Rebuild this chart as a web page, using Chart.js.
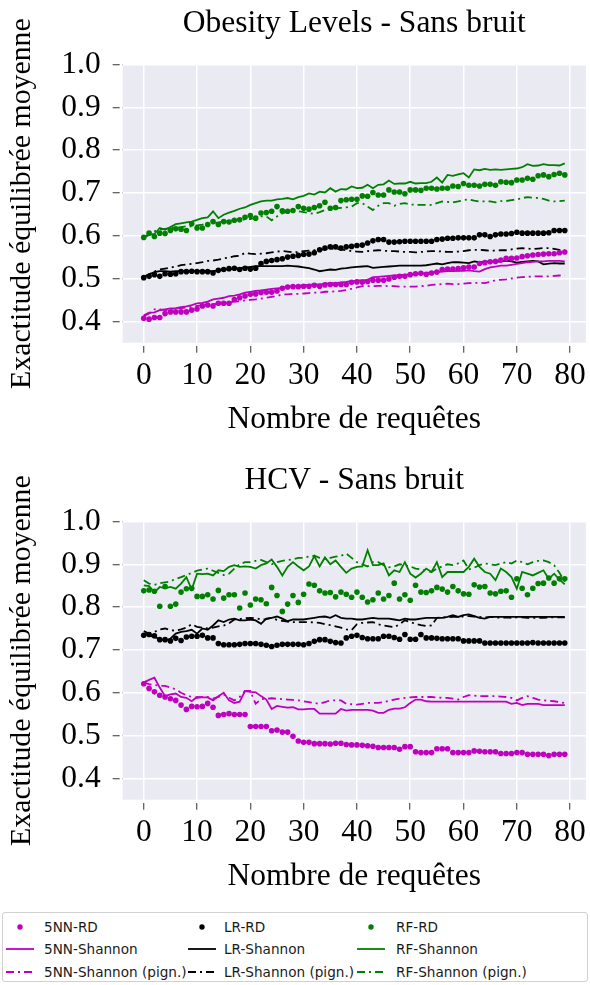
<!DOCTYPE html>
<html>
<head>
<meta charset="utf-8">
<script src="https://cdn.jsdelivr.net/npm/chart.js@4"></script>
<style>
  body { margin: 0; background: #fff; width: 590px; height: 985px; position: relative; overflow: hidden; }
  .plot { position: absolute; left: 0; width: 590px; height: 450px; }
  #legend { position: absolute; left: 2px; top: 912px; width: 586px; height: 70px; border: 1px solid #d0d0d0; border-radius: 3px; box-sizing: border-box; }
  .entry { position: absolute; font-family: "DejaVu Sans"; font-size: 13.6px; color: #1a1a1a; white-space: nowrap; line-height: 16px; }
  .sym { position: absolute; }
</style>
</head>
<body>
<div class="plot" style="top:0"><canvas id="obesity" width="590" height="450"></canvas></div>
<div class="plot" style="top:457px"><canvas id="hcv" width="590" height="450"></canvas></div>
<div id="legend"></div>
<script>
// Nombre de requêtes (axe x)
const requetes = Array.from({length: 80}, (_, i) => i);

// ---- Obesity Levels - Sans bruit ----
const obeKnnRD = [.407,.405,.409,.409,.418,.422,.422,.422,.422,.426, .429,.436,.438,.436,.442,.442,.442,.451,.455,.459,
  .463,.464,.467,.468,.468,.471,.477,.480,.481,.481, .482,.482,.484,.482,.485,.486,.486,.486,.486,.491,
  .492,.491,.493,.496,.496,.496,.499,.503,.505,.505, .509,.511,.512,.510,.513,.515,.521,.522,.522,.523,
  .525,.527,.527,.535,.537,.539,.540,.543,.547,.547, .548,.551,.553,.555,.556,.557,.558,.558,.560,.562];
const obeKnnSh = [.414,.420,.421,.426,.428,.430,.431,.433,.435,.438, .442,.443,.446,.451,.453,.455,.459,.460,.463,.467,
  .469,.471,.472,.474,.476,.477,.478,.481,.482,.482, .485,.485,.486,.486,.488,.489,.489,.491,.492,.494,
  .495,.496,.497,.503,.504,.505,.506,.507,.508,.509, .509,.510,.511,.513,.514,.515,.516,.517,.517,.518,
  .518,.519,.517,.516,.522,.526,.528,.530,.530,.532, .534,.536,.538,.539,.540,.540,.541,.541,.541,.540];
const obeKnnPg = [.412,.418,.428,.428,.426,.428,.430,.431,.432,.434, .436,.437,.438,.440,.441,.443,.444,.446,.447,.449,
  .450,.451,.453,.455,.457,.459,.463,.463,.464,.464, .465,.466,.467,.467,.469,.469,.470,.471,.473,.476,
  .479,.482,.482,.482,.483,.483,.482,.482,.481,.481, .481,.481,.482,.483,.485,.486,.487,.488,.487,.487,
  .488,.489,.490,.490,.489,.492,.496,.497,.498,.500, .502,.503,.504,.505,.505,.505,.505,.506,.507,.507];
const obeLrRD = [.502,.505,.509,.505,.511,.510,.511,.516,.516,.517, .516,.516,.516,.513,.519,.521,.523,.524,.521,.524,
  .522,.524,.535,.540,.542,.544,.546,.550,.552,.554, .556,.557,.560,.567,.571,.574,.574,.571,.574,.575,
  .577,.578,.583,.588,.591,.591,.585,.585,.586,.587, .587,.587,.587,.587,.587,.591,.592,.594,.594,.595,
  .595,.595,.595,.602,.602,.598,.602,.604,.604,.605, .608,.606,.606,.606,.606,.606,.607,.612,.612,.612];
const obeLrSh = [.504,.510,.515,.517,.517,.516,.517,.517,.518,.518, .517,.518,.518,.517,.519,.521,.522,.523,.524,.526,
  .527,.529,.529,.529,.529,.529,.529,.530,.529,.528, .526,.524,.521,.517,.519,.521,.520,.523,.524,.526,
  .527,.528,.529,.525,.526,.527,.528,.529,.530,.530, .530,.530,.530,.531,.533,.535,.533,.536,.538,.538,
  .537,.536,.540,.538,.539,.540,.539,.540,.542,.540, .537,.539,.540,.541,.540,.533,.535,.536,.535,.535];
const obeLrPg = [.503,.510,.516,.521,.523,.525,.528,.531,.533,.534, .536,.538,.541,.542,.544,.547,.549,.552,.553,.560,
  .558,.557,.558,.559,.561,.563,.564,.563,.561,.562, .564,.565,.566,.567,.568,.569,.569,.568,.566,.564,
  .563,.562,.564,.565,.566,.565,.564,.564,.563,.562, .562,.561,.562,.563,.564,.564,.563,.562,.562,.563,
  .564,.566,.567,.567,.566,.565,.565,.566,.566,.568, .570,.571,.570,.569,.570,.571,.571,.569,.567,.567];
const obeRfRD = [.596,.606,.598,.606,.605,.612,.616,.615,.612,.628, .618,.618,.626,.633,.626,.633,.632,.636,.637,.643,
  .647,.641,.653,.654,.657,.668,.658,.657,.659,.668, .664,.662,.666,.670,.678,.664,.666,.682,.684,.685,
  .685,.693,.692,.701,.695,.695,.707,.702,.702,.698, .707,.707,.706,.711,.711,.709,.711,.711,.716,.715,
  .722,.718,.718,.716,.720,.720,.718,.726,.725,.724, .730,.730,.734,.732,.740,.742,.738,.743,.746,.742];
const obeRfSh = [.595,.602,.604,.618,.614,.620,.627,.629,.631,.633, .637,.641,.643,.657,.641,.649,.654,.658,.663,.666,
  .672,.676,.680,.682,.682,.685,.686,.688,.685,.690, .693,.699,.696,.703,.701,.711,.703,.709,.708,.715,
  .711,.712,.719,.711,.719,.720,.729,.721,.722,.722, .726,.722,.723,.723,.726,.736,.724,.742,.740,.743,
  .746,.736,.755,.753,.756,.754,.755,.754,.755,.756, .757,.760,.767,.763,.764,.767,.765,.765,.764,.769];
const obeRfPg = [.596,.604,.610,.614,.616,.618,.618,.620,.622,.622, .624,.626,.630,.630,.631,.633,.634,.637,.637,.638,
  .639,.642,.645,.645,.636,.645,.652,.657,.657,.657, .655,.653,.651,.655,.660,.662,.664,.665,.666,.668,
  .676,.676,.668,.660,.670,.676,.676,.670,.674,.676, .673,.672,.672,.672,.672,.676,.680,.679,.678,.680,
  .683,.685,.682,.680,.680,.680,.678,.681,.681,.683, .685,.688,.690,.689,.688,.686,.682,.680,.681,.682];

// ---- HCV - Sans bruit ----
const hcvKnnRD = [.621,.610,.602,.594,.590,.586,.582,.571,.561,.568, .567,.568,.575,.566,.547,.549,.551,.549,.549,.549,
  .521,.521,.521,.521,.511,.513,.508,.508,.498,.487, .484,.484,.481,.481,.481,.480,.482,.482,.479,.478,
  .478,.477,.476,.475,.472,.472,.472,.472,.468,.474, .474,.462,.460,.460,.460,.469,.469,.469,.460,.460,
  .460,.460,.464,.463,.462,.462,.462,.458,.458,.458, .460,.460,.456,.456,.456,.456,.453,.456,.456,.456];
const hcvKnnSh = [.624,.630,.635,.612,.592,.596,.598,.590,.588,.580, .590,.589,.589,.582,.592,.600,.582,.576,.579,.604,
  .602,.601,.592,.584,.562,.569,.567,.565,.566,.561, .561,.562,.562,.551,.551,.551,.551,.562,.558,.560,
  .560,.560,.560,.558,.553,.553,.560,.563,.563,.566, .576,.584,.584,.580,.579,.579,.579,.579,.579,.579,
  .579,.579,.579,.579,.579,.579,.579,.579,.579,.574, .576,.571,.574,.574,.574,.571,.571,.571,.571,.571];
const hcvKnnPg = [.624,.620,.618,.616,.616,.612,.608,.600,.594,.590, .588,.590,.590,.586,.590,.596,.588,.582,.590,.604,
  .604,.574,.585,.586,.587,.586,.585,.584,.583,.582, .580,.578,.576,.574,.578,.582,.582,.582,.574,.573,
  .572,.574,.576,.576,.576,.578,.581,.584,.586,.588, .589,.590,.590,.590,.590,.589,.588,.588,.586,.584,
  .590,.594,.593,.592,.592,.592,.592,.591,.590,.588, .582,.588,.592,.588,.584,.582,.581,.580,.578,.576];
const hcvLrRD = [.734,.736,.733,.724,.724,.721,.727,.722,.730,.732, .732,.734,.728,.728,.715,.712,.712,.712,.713,.715,
  .715,.715,.713,.711,.708,.711,.713,.713,.713,.713, .712,.715,.720,.724,.724,.720,.717,.716,.728,.732,
  .734,.729,.726,.726,.726,.732,.732,.729,.725,.736, .725,.725,.736,.728,.728,.727,.726,.726,.726,.726,
  .721,.721,.721,.721,.716,.716,.716,.716,.716,.716, .716,.716,.716,.717,.716,.716,.716,.716,.716,.716];
const hcvLrSh = [.738,.734,.730,.726,.722,.726,.738,.742,.744,.747, .738,.750,.747,.757,.769,.765,.771,.773,.769,.769,
  .771,.769,.761,.773,.775,.778,.773,.767,.771,.771, .771,.773,.775,.777,.778,.775,.781,.775,.773,.773,
  .771,.771,.773,.775,.773,.773,.773,.771,.769,.773, .771,.771,.773,.775,.775,.775,.775,.777,.781,.777,
  .781,.783,.779,.775,.773,.777,.777,.777,.777,.777, .777,.777,.777,.777,.777,.777,.777,.777,.777,.777];
const hcvLrPg = [.744,.738,.742,.748,.750,.746,.745,.748,.752,.760, .754,.752,.750,.752,.755,.757,.762,.771,.772,.774,
  .775,.774,.771,.772,.775,.770,.768,.766,.765,.765, .765,.765,.764,.763,.760,.758,.755,.752,.748,.746,
  .760,.763,.764,.765,.760,.757,.755,.753,.760,.769, .765,.761,.758,.756,.757,.775,.776,.776,.777,.777,
  .778,.779,.778,.777,.776,.777,.776,.775,.776,.775, .776,.776,.775,.775,.775,.775,.776,.776,.776,.776];
const hcvRfRD = [.838,.840,.837,.802,.848,.802,.807,.835,.843,.844, .825,.825,.829,.819,.839,.821,.829,.829,.798,.833,
  .805,.819,.817,.808,.846,.827,.790,.807,.827,.811, .830,.854,.851,.838,.833,.834,.824,.835,.830,.823,
  .835,.823,.812,.817,.833,.819,.827,.856,.819,.829, .816,.851,.835,.834,.838,.846,.842,.835,.848,.838,
  .831,.830,.852,.847,.848,.833,.831,.837,.838,.823, .866,.844,.829,.844,.855,.856,.868,.856,.866,.866];
const hcvRfSh = [.851,.849,.835,.847,.844,.847,.843,.855,.870,.841, .878,.877,.878,.874,.886,.884,.894,.898,.894,.895,
  .894,.890,.898,.902,.911,.894,.874,.894,.905,.895, .886,.895,.919,.895,.916,.900,.909,.894,.880,.890,
  .894,.895,.933,.898,.898,.902,.874,.886,.882,.905, .878,.869,.878,.890,.882,.905,.870,.882,.882,.882,
  .882,.894,.913,.894,.882,.878,.863,.890,.882,.870, .843,.882,.878,.874,.880,.886,.866,.878,.864,.853];
const hcvRfPg = [.863,.855,.852,.856,.858,.860,.866,.870,.875,.880, .885,.888,.890,.885,.880,.875,.878,.890,.900,.905,
  .905,.908,.910,.905,.900,.905,.908,.910,.912,.915, .915,.918,.920,.915,.912,.915,.918,.920,.925,.915,
  .905,.900,.895,.905,.905,.898,.893,.895,.900,.898, .895,.890,.888,.885,.882,.890,.895,.900,.898,.902,
  .909,.888,.892,.898,.902,.900,.898,.902,.905,.902, .909,.905,.900,.905,.908,.909,.905,.898,.880,.859];

const legendLabels = ['5NN-RD', 'LR-RD', 'RF-RD',
  '5NN-Shannon', 'LR-Shannon', 'RF-Shannon',
  '5NN-Shannon (pign.)', 'LR-Shannon (pign.)', 'RF-Shannon (pign.)'];

const MAG = '#bf00bf', BLK = '#000000', GRN = '#008000';
const DASHDOT = [8, 4, 2, 4];
const SERIF = 'Liberation Serif';

function pts(arr) { return arr.map((v, i) => ({x: requetes[i], y: v})); }

function dots(label, arr, color) {
  return { label, data: pts(arr), showLine: false, pointRadius: 2.8, pointBorderWidth: 0,
           pointBackgroundColor: color, borderColor: color };
}
function line(label, arr, color, dash) {
  return { label, data: pts(arr), pointRadius: 0, borderWidth: 1.8, borderColor: color,
           borderDash: dash || [], tension: 0, fill: false };
}

const bgPlugin = {
  id: 'bg',
  beforeDraw(chart) {
    const a = chart.chartArea, ctx = chart.ctx;
    ctx.save();
    ctx.fillStyle = '#eaeaf2';
    ctx.fillRect(a.left, a.top, a.right - a.left, a.bottom - a.top);
    ctx.restore();
  }
};

function makeChart(id, title, s) {
  return new Chart(document.getElementById(id), {
    type: 'line',
    data: { datasets: [
      dots('5NN-RD', s[0], MAG), line('5NN-Shannon', s[1], MAG), line('5NN-Shannon (pign.)', s[2], MAG, DASHDOT),
      dots('LR-RD', s[3], BLK), line('LR-Shannon', s[4], BLK), line('LR-Shannon (pign.)', s[5], BLK, DASHDOT),
      dots('RF-RD', s[6], GRN), line('RF-Shannon', s[7], GRN), line('RF-Shannon (pign.)', s[8], GRN, DASHDOT)
    ]},
    options: {
      responsive: false,
      animation: false,
      layout: { padding: { left: 0, right: 3.3, top: 0, bottom: 0 } },
      plugins: {
        legend: { display: false },
        tooltip: { enabled: false },
        title: { display: true, text: title, color: '#000', fullSize: false,
                 font: { family: SERIF, size: 31.5, weight: 'normal' }, padding: { top: 4.6, bottom: 22.1 } }
      },
      scales: {
        x: {
          type: 'linear', min: -3.95, max: 82.95,
          afterFit: sc => { sc.height = 107.3; },
          border: { display: false },
          grid: { color: '#ffffff', lineWidth: 1.5, tickColor: '#333', tickLength: 10, tickBorderDash: [0, 3, 7], tickWidth: 1 },
          ticks: { stepSize: 10, includeBounds: false, color: '#000', padding: 4, maxRotation: 0,
                   font: { family: SERIF, size: 31.5 } },
          title: { display: true, text: 'Nombre de requêtes', color: '#000',
                   font: { family: SERIF, size: 31.5 }, padding: { top: 0, bottom: 11.1 } }
        },
        y: {
          min: 0.35, max: 1.0,
          afterFit: sc => { sc.width = 122.7; },
          border: { display: false },
          grid: { color: '#ffffff', lineWidth: 1.5, tickColor: '#333', tickLength: 10, tickBorderDash: [7, 3], tickWidth: 1 },
          ticks: { stepSize: 0.1, includeBounds: false, color: '#000', padding: 12,
                   font: { family: SERIF, size: 31.5 }, callback: v => v.toFixed(1) },
          title: { display: true, text: 'Exactitude équilibrée moyenne', color: '#000',
                   font: { family: SERIF, size: 29.8 }, padding: { top: 4, bottom: 0 } }
        }
      }
    },
    plugins: [bgPlugin]
  });
}

makeChart('obesity', 'Obesity Levels - Sans bruit',
  [obeKnnRD, obeKnnSh, obeKnnPg, obeLrRD, obeLrSh, obeLrPg, obeRfRD, obeRfSh, obeRfPg]);
makeChart('hcv', 'HCV - Sans bruit',
  [hcvKnnRD, hcvKnnSh, hcvKnnPg, hcvLrRD, hcvLrSh, hcvLrPg, hcvRfRD, hcvRfSh, hcvRfPg]);

// Légende commune (3 colonnes x 3 lignes)
const legend = document.getElementById('legend');
const colSym = [3, 185, 354], colText = [41, 221, 393], rowY = [13.7, 36.3, 58.7];
const colors = [MAG, BLK, GRN];
legendLabels.forEach((lab, k) => {
  const row = Math.floor(k / 3), col = k % 3;
  const svg = document.createElementNS('http://www.w3.org/2000/svg', 'svg');
  svg.setAttribute('width', 28); svg.setAttribute('height', 10);
  svg.setAttribute('class', 'sym');
  svg.style.left = colSym[col] + 'px';
  svg.style.top = (rowY[row] - 5) + 'px';
  if (row === 0) {
    svg.innerHTML = `<circle cx="14" cy="5" r="2.7" fill="${colors[col]}"/>`;
  } else {
    const dash = row === 2 ? 'stroke-dasharray="8 4 2 4"' : '';
    svg.innerHTML = `<line x1="0" y1="5" x2="28" y2="5" stroke="${colors[col]}" stroke-width="1.8" ${dash}/>`;
  }
  legend.appendChild(svg);
  const t = document.createElement('div');
  t.className = 'entry';
  t.textContent = lab;
  t.style.left = colText[col] + 'px';
  t.style.top = (rowY[row] - 8) + 'px';
  legend.appendChild(t);
});
</script>
</body>
</html>
